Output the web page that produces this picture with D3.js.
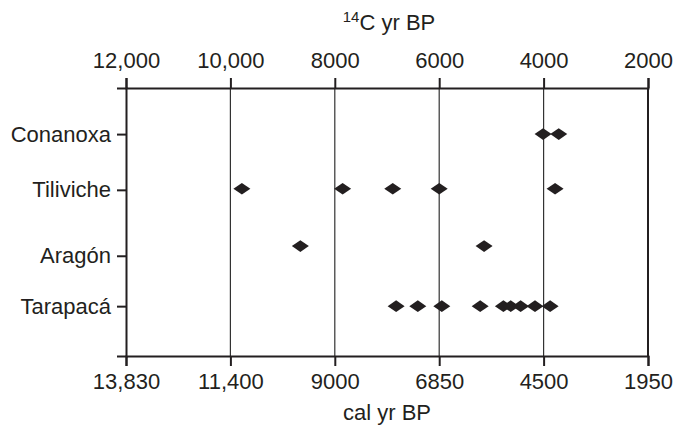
<!DOCTYPE html>
<html>
<head>
<meta charset="utf-8">
<script src="https://cdn.jsdelivr.net/npm/d3@7.8.5/dist/d3.min.js"></script>
<style>
  body { margin: 0; background: #fff; }
  svg { display: block; font-family: "Liberation Sans", Arial, sans-serif; }
  .axis text { font-size: 22px; fill: #231f20; }
  .axis path, .axis line { stroke: #231f20; }
</style>
</head>
<body>
<svg id="chart" width="673" height="425"></svg>
<script>
// 14C ages on the top axis, matching calibrated ages on the bottom axis
const c14Ticks = [12000, 10000, 8000, 6000, 4000, 2000];
const c14Labels = ['12,000', '10,000', '8000', '6000', '4000', '2000'];
const calLabels = ['13,830', '11,400', '9000', '6850', '4500', '1950'];

// sites (rows), label position and row of the dates on a 0-5 vertical scale
const sites = ['Conanoxa', 'Tiliviche', 'Aragón', 'Tarapacá'];
const siteTickPos = [4.14, 3.1, 1.87, 0.93];
const siteRowPos = [4.14, 3.12, 2.05, 0.93];

// radiocarbon dates (14C yr BP) per site
const conanoxaDates = [4010, 3710];
const tilivicheDates = [9780, 7850, 6890, 6000, 3780];
const aragonDates = [8660, 5140];
const tarapacaDates = [6825, 6410, 5950, 5215, 4770, 4630, 4440, 4165, 3875];

const dates = [conanoxaDates, tilivicheDates, aragonDates, tarapacaDates];

const svg = d3.select('#chart');
const plotLeft = 126, plotRight = 648, plotTop = 88, plotBottom = 356;

const x = d3.scaleLinear().domain([12000, 2000]).range([plotLeft, plotRight]);
const y = d3.scaleLinear().domain([0, 5]).range([plotBottom, plotTop]);

// vertical gridlines at inner ticks
svg.append('g')
    .selectAll('line')
    .data(c14Ticks.slice(1, -1))
    .enter()
    .append('line')
    .attr('x1', d => x(d)).attr('x2', d => x(d))
    .attr('y1', plotTop).attr('y2', plotBottom)
    .attr('stroke', '#333')
    .attr('stroke-width', 1.2);

// right border
svg.append('line')
    .attr('x1', x(2000)).attr('x2', x(2000))
    .attr('y1', plotTop).attr('y2', plotBottom)
    .attr('stroke', '#231f20')
    .attr('stroke-width', 2);

// top axis (14C)
svg.append('g')
    .attr('class', 'axis')
    .attr('transform', `translate(0,${plotTop})`)
    .call(d3.axisTop(x)
        .tickValues(c14Ticks)
        .tickFormat((d, i) => c14Labels[i])
        .tickSizeOuter(0)
        .tickSize(10)
        .tickPadding(10));

// bottom axis (cal)
svg.append('g')
    .attr('class', 'axis')
    .attr('transform', `translate(0,${plotBottom})`)
    .call(d3.axisBottom(x)
        .tickValues(c14Ticks)
        .tickFormat((d, i) => calLabels[i])
        .tickSizeOuter(0)
        .tickSize(10)
        .tickPadding(7));

// left axis with site names
svg.append('g')
    .attr('class', 'axis')
    .attr('transform', `translate(${plotLeft},0)`)
    .call(d3.axisLeft(y)
        .tickValues(siteTickPos)
        .tickFormat((d, i) => sites[i])
        .tickSizeOuter(0)
        .tickSize(9)
        .tickPadding(6));

svg.selectAll('.axis path').attr('stroke-width', 2);
svg.selectAll('.axis line').attr('stroke-width', 2);

// diamonds
const diamond = 'M-8.5,0L0,-5.8L8.5,0L0,5.8Z';
dates.forEach((row, i) => {
    svg.append('g')
        .selectAll('path')
        .data(row)
        .enter()
        .append('path')
        .attr('d', diamond)
        .attr('transform', d => `translate(${x(d)},${y(siteRowPos[i])})`)
        .attr('fill', '#231f20');
});

// axis titles
const topTitle = svg.append('text')
    .attr('x', (plotLeft + plotRight) / 2 + 2)
    .attr('y', 30)
    .attr('text-anchor', 'middle')
    .style('font-size', '22px')
    .attr('fill', '#231f20');
topTitle.append('tspan').attr('dy', -8).style('font-size', '15px').text('14');
topTitle.append('tspan').attr('dy', 8).text('C yr BP');

svg.append('text')
    .attr('x', (plotLeft + plotRight) / 2)
    .attr('y', 420)
    .attr('text-anchor', 'middle')
    .style('font-size', '22px')
    .attr('fill', '#231f20')
    .text('cal yr BP');
</script>
</body>
</html>
